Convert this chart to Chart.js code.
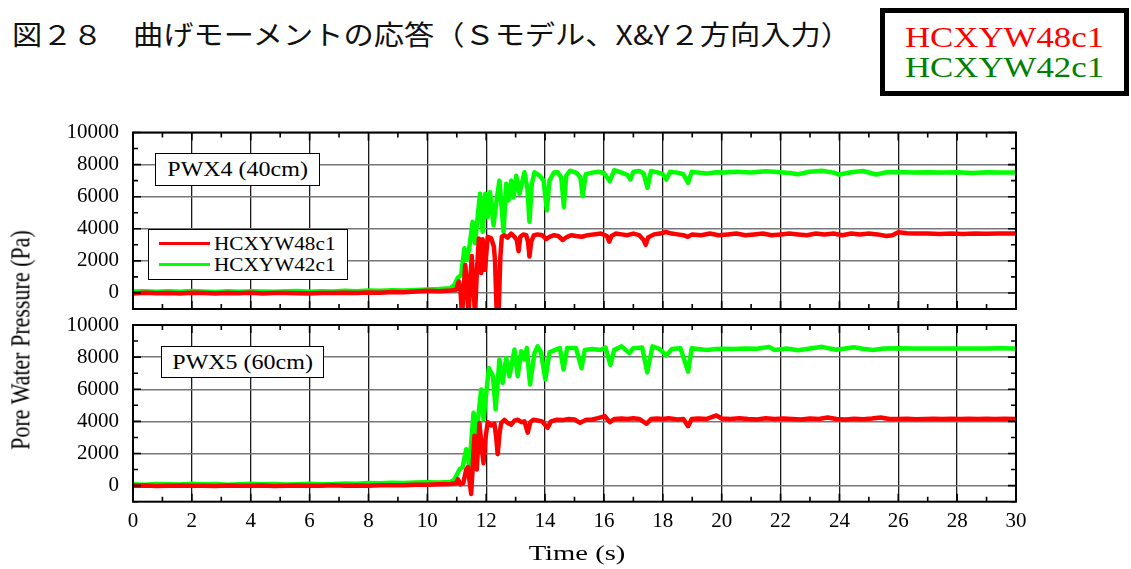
<!DOCTYPE html>
<html lang="ja">
<head>
<meta charset="utf-8">
<title>曲げモーメントの応答</title>
<script src="https://cdn.jsdelivr.net/npm/chart.js@4.4.1/dist/chart.umd.min.js"></script>
<style>
  html, body { margin: 0; padding: 0; background: #fff; }
  body { width: 1131px; height: 569px; position: relative; overflow: hidden;
         font-family: 'Liberation Serif', 'Times New Roman', serif; color: #000; }
  .abs { position: absolute; }
  canvas { display: block; }
  #figTitle { left: 12px; top: 17px; font-family: 'Noto Sans CJK JP', sans-serif; font-size: 27px;
              line-height: 34px; white-space: nowrap; transform: scaleX(1.12); transform-origin: 0 50%; color: #111; z-index: 3; }
  #runKey { left: 880px; top: 8px; width: 249px; height: 88px; box-sizing: border-box;
            border: 5px solid #000; background: #fff; z-index: 3; }
  #runKey div { position: absolute; left: 0; right: 0; text-align: center; font-size: 29px;
                line-height: 30px; transform: scaleX(1.2); white-space: nowrap; }
  .tag { box-sizing: border-box; border: 1.5px solid #000; background: #fff; display: flex;
         align-items: center; justify-content: center; font-size: 20px; z-index: 3; }
  .tag span { display: inline-block; transform: scaleX(1.2); white-space: nowrap; }
  #innerKey { left: 148px; top: 229px; width: 200px; height: 51px; box-sizing: border-box;
              border: 1.5px solid #000; background: #fff; z-index: 3; }
  #innerKey .sw { position: absolute; left: 10px; width: 51px; height: 3px; }
  #innerKey .tx { position: absolute; left: 65px; font-size: 18px; line-height: 20px;
                  transform: scaleX(1.18); transform-origin: 0 50%; white-space: nowrap; }
  #yTitle { left: 21px; top: 340px; font-size: 22px; white-space: nowrap;
            transform: translate(-50%, -50%) rotate(-90deg) scaleY(1.2); z-index: 3; }
  #xTitle { left: 577px; top: 553px; font-size: 22px; white-space: nowrap;
            transform: translate(-50%, -50%) scaleX(1.3); z-index: 3; }
  #topWrap { left: 0; top: 120px; width: 1131px; height: 200px; z-index: 1; }
  #botWrap { left: 0; top: 312px; width: 1131px; height: 257px; z-index: 2; }
</style>
</head>
<body>

<div id="figTitle" class="abs">図２８　曲げモーメントの応答（Ｓモデル、X&amp;Y２方向入力）</div>
<div id="runKey" class="abs">
  <div style="top:9px;color:#ff0000">HCXYW48c1</div>
  <div style="top:39px;color:#008000">HCXYW42c1</div>
</div>

<div id="topWrap" class="abs"><canvas id="pwx4" width="1131" height="200"></canvas></div>
<div id="botWrap" class="abs"><canvas id="pwx5" width="1131" height="257"></canvas></div>

<div class="abs tag" style="left:155px;top:153px;width:165px;height:33px"><span>PWX4 (40cm)</span></div>
<div class="abs tag" style="left:161px;top:346px;width:163px;height:32px"><span>PWX5 (60cm)</span></div>

<div id="innerKey" class="abs">
  <div class="sw" style="top:12px;background:#ff0000"></div>
  <div class="tx" style="top:4px">HCXYW48c1</div>
  <div class="sw" style="top:33px;background:#00ff00"></div>
  <div class="tx" style="top:25px">HCXYW42c1</div>
</div>

<div id="yTitle" class="abs">Pore Water Pressure (Pa)</div>
<div id="xTitle" class="abs">Time (s)</div>

<script>
// Time axis and pressure axis tick values
const timeTicks = [0, 2, 4, 6, 8, 10, 12, 14, 16, 18, 20, 22, 24, 26, 28, 30];
const paTicks = [0, 2000, 4000, 6000, 8000, 10000];

// Series labels and colours
const runLabels = ['HCXYW48c1', 'HCXYW42c1'];
const runColors = ['#ff0000', '#00ff00'];

// PWX4 (40cm): [time s, pore water pressure Pa]
const pwx4Run48 = [
  [0,-30],[0.4,10],[0.8,-20],[1.2,0],[1.6,-40],[2.0,10],[2.4,-10],[2.8,-30],[3.2,0],[3.6,-20],
  [4.0,10],[4.4,-30],[4.8,-10],[5.2,0],[5.6,-20],[6.0,-40],[6.4,0],[6.8,-10],[7.2,20],[7.6,-10],
  [8.0,30],[8.4,10],[8.8,60],[9.2,40],[9.6,90],[10.0,130],[10.4,110],[10.8,160],
  [10.98,200],[11.07,720],[11.12,300],[11.18,-1400],[11.24,400],[11.29,1750],[11.34,600],[11.40,-1400],
  [11.46,800],[11.51,2300],[11.55,1000],[11.62,-1400],[11.68,1200],[11.75,3400],[11.83,1240],[11.88,3340],
  [11.96,1440],[12.05,3500],[12.17,3400],[12.26,2900],[12.30,2000],[12.36,-1400],[12.42,-1400],[12.48,2200],
  [12.53,3500],[12.62,3600],[12.73,3450],[12.85,3700],[12.96,3500],[13.04,3300],[13.10,2600],[13.16,3500],
  [13.26,3650],[13.36,3600],[13.42,3200],[13.47,2270],[13.53,3200],[13.62,3600],[13.75,3650],[13.90,3600],
  [14.04,3350],[14.15,3500],[14.30,3600],[14.45,3550],[14.60,3300],[14.75,3500],[14.90,3600],[15.05,3550],
  [15.25,3500],[15.45,3600],[15.65,3650],[15.90,3700],[16.10,3550],[16.18,3200],[16.26,3550],[16.40,3700],
  [16.60,3650],[16.80,3600],[17.00,3700],[17.20,3600],[17.35,3300],[17.42,3000],[17.50,3450],[17.70,3650],
  [17.90,3700],[18.10,3800],[18.30,3700],[18.50,3650],[18.70,3600],[18.85,3500],[19.00,3650],[19.30,3600],
  [19.60,3700],[19.90,3600],[20.20,3650],[20.50,3700],[20.80,3600],[21.10,3650],[21.40,3700],[21.70,3600],
  [22.00,3650],[22.30,3700],[22.60,3650],[22.90,3600],[23.20,3700],[23.50,3650],[23.80,3700],[24.10,3600],
  [24.40,3700],[24.70,3650],[25.00,3700],[25.30,3650],[25.60,3550],[25.80,3600],[26.00,3780],[26.30,3720],
  [26.60,3700],[27.00,3700],[27.40,3680],[27.80,3700],[28.20,3680],[28.60,3700],[29.00,3690],[29.40,3700],
  [29.80,3700],[30.00,3700]
];

const pwx4Run42 = [
  [0,90],[0.4,110],[0.8,70],[1.2,100],[1.6,80],[2.0,120],[2.4,90],[2.8,60],[3.2,100],[3.6,80],
  [4.0,110],[4.4,90],[4.8,70],[5.2,100],[5.6,120],[6.0,80],[6.4,100],[6.8,90],[7.2,130],[7.6,110],
  [8.0,150],[8.4,130],[8.8,170],[9.2,150],[9.6,190],[10.0,210],[10.4,240],[10.8,300],
  [10.92,515],[11.03,930],[11.15,1130],[11.26,2780],[11.34,2060],[11.43,2880],[11.54,4430],[11.62,3090],
  [11.71,4740],[11.79,6180],[11.88,3810],[11.97,6180],[12.05,4740],[12.13,6280],[12.25,4220],[12.36,5870],
  [12.45,7000],[12.59,3810],[12.68,6800],[12.76,5770],[12.85,7000],[12.93,5970],[13.02,7310],[13.13,6180],
  [13.30,7520],[13.40,6500],[13.47,4430],[13.55,6800],[13.64,7520],[13.81,7310],[13.95,7000],[14.06,5150],
  [14.15,7000],[14.30,7500],[14.43,7520],[14.55,7200],[14.64,5360],[14.72,7300],[14.85,7620],[15.07,7480],
  [15.20,7200],[15.28,6030],[15.38,7400],[15.60,7500],[15.80,7550],[16.00,7480],[16.20,6960],[16.35,7650],
  [16.60,7500],[16.80,7350],[16.90,7070],[17.00,7550],[17.20,7600],[17.35,7450],[17.48,6550],[17.60,7600],
  [17.85,7500],[18.00,7400],[18.12,7070],[18.25,7550],[18.50,7500],[18.70,7400],[18.86,6860],[18.98,7550],
  [19.20,7500],[19.50,7450],[19.80,7520],[20.10,7500],[20.50,7550],[21.00,7500],[21.50,7580],[22.00,7520],
  [22.30,7480],[22.60,7400],[23.00,7560],[23.40,7620],[23.80,7500],[24.00,7380],[24.40,7520],[24.80,7600],
  [25.25,7380],[25.60,7520],[26.00,7540],[26.50,7500],[27.00,7520],[27.50,7500],[28.00,7520],[28.50,7480],
  [29.00,7520],[29.50,7500],[30.00,7510]
];

// PWX5 (60cm): [time s, pore water pressure Pa]
const pwx5Run48 = [
  [0,-10],[0.4,10],[0.8,-20],[1.2,0],[1.6,10],[2.0,-10],[2.4,0],[2.8,-20],[3.2,10],[3.6,0],
  [4.0,-10],[4.4,10],[4.8,-20],[5.2,0],[5.6,10],[6.0,-10],[6.4,0],[6.8,20],[7.2,-10],[7.6,10],
  [8.0,0],[8.4,20],[8.8,30],[9.2,20],[9.6,50],[10.0,60],[10.4,80],[10.8,100],
  [10.98,150],[11.04,400],[11.12,80],[11.22,150],[11.32,1000],[11.38,1150],[11.44,200],[11.49,-520],
  [11.55,1500],[11.60,3100],[11.68,1000],[11.77,3900],[11.84,2500],[11.91,1400],[11.98,3000],[12.05,3950],
  [12.16,3750],[12.28,3850],[12.34,3000],[12.39,1960],[12.45,3200],[12.51,3900],[12.62,4100],[12.73,3900],
  [12.85,3800],[12.96,4050],[13.07,4100],[13.20,3950],[13.30,4000],[13.41,3300],[13.50,3950],[13.60,4100],
  [13.75,4050],[13.90,4000],[14.09,3600],[14.20,4000],[14.40,4100],[14.60,4080],[14.80,4150],[15.00,4120],
  [15.19,3910],[15.40,4100],[15.60,4120],[15.80,4200],[16.03,4330],[16.20,3950],[16.35,4150],[16.60,4180],
  [16.80,4150],[17.00,4200],[17.20,4150],[17.45,3850],[17.60,4150],[17.80,4180],[18.00,4150],[18.20,4200],
  [18.50,4120],[18.70,4150],[18.86,3700],[18.98,4150],[19.20,4180],[19.50,4150],[19.82,4370],[20.00,4180],
  [20.30,4150],[20.60,4200],[20.90,4150],[21.20,4120],[21.50,4200],[21.80,4150],[22.10,4180],[22.40,4150],
  [22.70,4120],[23.00,4180],[23.30,4150],[23.60,4240],[23.90,4150],[24.20,4120],[24.50,4160],[24.80,4140],
  [25.10,4180],[25.40,4240],[25.70,4150],[26.00,4150],[26.30,4160],[26.60,4140],[26.90,4150],[27.20,4160],
  [27.50,4150],[27.80,4160],[28.10,4150],[28.40,4170],[28.70,4150],[29.00,4160],[29.30,4150],[29.60,4160],
  [30.00,4150]
];

const pwx5Run42 = [
  [0,80],[0.4,60],[0.8,100],[1.2,90],[1.6,70],[2.0,110],[2.4,80],[2.8,100],[3.2,60],[3.6,90],
  [4.0,110],[4.4,80],[4.8,100],[5.2,70],[5.6,90],[6.0,110],[6.4,80],[6.8,100],[7.2,140],[7.6,120],
  [8.0,160],[8.4,150],[8.8,180],[9.2,170],[9.6,200],[10.0,210],[10.4,190],[10.8,220],
  [10.93,410],[11.10,1030],[11.20,1150],[11.32,2270],[11.43,1240],[11.57,4540],[11.66,3100],[11.83,5990],
  [11.91,4130],[12.09,7330],[12.23,6810],[12.32,4750],[12.45,7850],[12.56,6400],[12.68,7950],[12.79,6810],
  [12.96,8470],[13.07,6810],[13.19,8360],[13.30,7850],[13.38,8570],[13.49,6300],[13.64,8260],[13.75,8670],
  [13.86,8300],[14.01,6610],[14.15,8300],[14.37,8470],[14.50,8570],[14.63,7230],[14.75,8570],[15.05,8570],
  [15.24,7310],[15.35,8450],[15.60,8500],[15.90,8450],[16.05,8600],[16.22,7520],[16.35,8450],[16.60,8670],
  [16.86,8260],[17.00,8550],[17.30,8600],[17.47,7050],[17.65,8670],[17.90,8500],[18.12,8100],[18.30,8500],
  [18.60,8550],[18.86,7100],[18.98,8550],[19.20,8500],[19.50,8450],[19.80,8500],[20.10,8520],[20.40,8500],
  [20.80,8540],[21.20,8520],[21.60,8640],[21.80,8450],[22.20,8540],[22.60,8430],[23.00,8540],[23.40,8640],
  [23.90,8460],[24.50,8620],[24.80,8520],[25.15,8440],[25.50,8540],[26.00,8550],[26.50,8530],[27.00,8540],
  [27.50,8530],[28.00,8540],[28.50,8530],[29.00,8540],[29.50,8550],[30.00,8540]
];

// Frame with inward major/minor ticks on all four sides
const inwardFrame = {
  id: 'inwardFrame',
  afterDraw(chart) {
    const { ctx, chartArea: a, scales: { x, y } } = chart;
    ctx.save();
    ctx.strokeStyle = '#000';
    ctx.lineWidth = 1.6;
    ctx.beginPath();
    for (let t = x.min; t <= x.max; t += 1) {
      const px = x.getPixelForValue(t);
      const len = t % 2 === 0 ? 8 : 5;
      ctx.moveTo(px, a.bottom); ctx.lineTo(px, a.bottom - len);
      ctx.moveTo(px, a.top); ctx.lineTo(px, a.top + len);
    }
    for (let v = y.min; v <= y.max; v += 1000) {
      const py = y.getPixelForValue(v);
      const len = v % 2000 === 0 ? 8 : 5;
      ctx.moveTo(a.left, py); ctx.lineTo(a.left + len, py);
      ctx.moveTo(a.right, py); ctx.lineTo(a.right - len, py);
    }
    ctx.stroke();
    ctx.lineWidth = 2;
    ctx.strokeRect(a.left, a.top, a.right - a.left, a.bottom - a.top);
    ctx.restore();
  }
};

const tickFont = { family: "'Liberation Serif', 'Times New Roman', serif", size: 21 };

function makePanel(canvasId, runs, withTimeAxis, pad) {
  return new Chart(document.getElementById(canvasId), {
    type: 'line',
    data: {
      datasets: runs.map((pts, i) => ({
        label: runLabels[i],
        data: pts.map(([t, v]) => ({ x: t, y: v })),
        borderColor: runColors[i],
        backgroundColor: runColors[i],
        borderWidth: 4.5,
        pointRadius: 0,
        tension: 0,
        borderJoinStyle: 'round',
        clip: 0
      }))
    },
    options: {
      responsive: false,
      animation: false,
      events: [],
      layout: { padding: pad },
      plugins: { legend: { display: false }, tooltip: { enabled: false } },
      scales: {
        x: {
          type: 'linear', min: 0, max: 30,
          afterBuildTicks: s => { s.ticks = timeTicks.map(v => ({ value: v })); },
          afterFit: s => {
            s.height = withTimeAxis ? 67.3 : 0;
            s.paddingLeft = 0; s.paddingRight = 0; s.paddingTop = 0; s.paddingBottom = 0;
          },
          ticks: { display: withTimeAxis, color: '#000', font: tickFont, padding: 7,
                   maxRotation: 0, autoSkip: false, callback: v => String(v) },
          grid: { color: '#1a1a1a', lineWidth: 1.3, drawTicks: false },
          border: { display: false }
        },
        y: {
          type: 'linear', min: -1000, max: 10000,
          afterBuildTicks: s => { s.ticks = paTicks.map(v => ({ value: v })); },
          afterFit: s => {
            s.width = 133;
            s.paddingTop = 0; s.paddingBottom = 0; s.paddingLeft = 0; s.paddingRight = 0;
          },
          ticks: { color: '#000', font: tickFont, padding: 14, callback: v => String(v) },
          grid: { color: '#777', lineWidth: 1.4, drawTicks: false },
          border: { display: false }
        }
      }
    },
    plugins: [inwardFrame]
  });
}

makePanel('pwx4', [pwx4Run48, pwx4Run42], false, { left: 0, right: 115, top: 12.5, bottom: 11 });
makePanel('pwx5', [pwx5Run48, pwx5Run42], true, { left: 0, right: 115, top: 13, bottom: 0 });
</script>
</body>
</html>
